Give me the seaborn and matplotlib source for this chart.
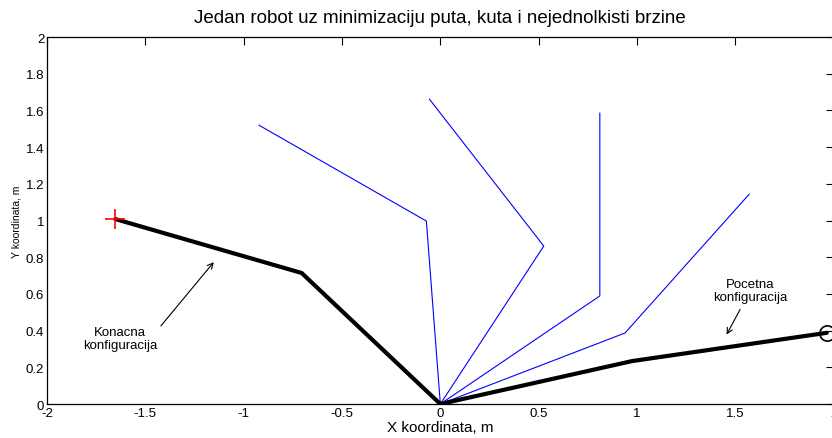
import numpy as np
import pandas as pd
import seaborn as sns
import matplotlib.pyplot as plt
import matplotlib.ticker as ticker

# joint positions (base, elbow, end effector) for each configuration
final_x = [0, -0.705, -1.653]
final_y = [0, 0.714, 1.008]
start_x = [0, 0.975, 1.965]
start_y = [0, 0.234, 0.388]

mid_x = [
    [0, -0.071, -0.923],
    [0, 0.526, -0.056],
    [0, 0.811, 0.811],
    [0, 0.939, 1.571],
]
mid_y = [
    [0, 0.997, 1.52],
    [0, 0.861, 1.662],
    [0, 0.589, 1.586],
    [0, 0.387, 1.144],
]

rows = []
for i, (xs, ys) in enumerate(zip(mid_x, mid_y)):
    for j, (x, y) in enumerate(zip(xs, ys)):
        rows.append({"cfg": i, "joint": j, "x": x, "y": y})
df_mid = pd.DataFrame(rows)

sns.set_style("white")
plt.rcParams['font.family'] = ['Liberation Sans', 'DejaVu Sans']
plt.rcParams['text.color'] = 'black'
plt.rcParams['axes.labelcolor'] = 'black'

fig = plt.figure(figsize=(8.32, 4.39), dpi=100)
ax = fig.add_axes([0.0565, 0.0774, 0.9455, 0.836])

for i in range(len(mid_x)):
    sub = df_mid[df_mid["cfg"] == i]
    sns.lineplot(data=sub, x="x", y="y", sort=False, estimator=None,
                 color="#0000ff", linewidth=0.8, ax=ax)

sns.lineplot(x=final_x, y=final_y, sort=False, estimator=None,
             color="black", linewidth=3, ax=ax)
sns.lineplot(x=start_x, y=start_y, sort=False, estimator=None,
             color="black", linewidth=3, ax=ax)

ax.plot(final_x[-1], final_y[-1], marker="+", color="red", markersize=14, mew=1.2)
ax.plot(start_x[-1], start_y[-1], marker="o", mfc="none", mec="black", markersize=11, mew=1.2)

ax.annotate("", xy=(-1.143, 0.785), xytext=(-1.43, 0.414),
            arrowprops=dict(arrowstyle="->", color="black", lw=0.8))
ax.text(-1.63, 0.355, "Konacna\nkonfiguracija", ha="center", va="center",
        fontsize=9.5, linespacing=1.1)
ax.annotate("", xy=(1.449, 0.365), xytext=(1.531, 0.529),
            arrowprops=dict(arrowstyle="->", color="black", lw=0.8))
ax.text(1.577, 0.62, "Pocetna\nkonfiguracija", ha="center", va="center",
        fontsize=9.5, linespacing=1.1)

ax.set_xlim(-2, 2)
ax.set_ylim(0, 2)
ax.xaxis.set_major_locator(ticker.MultipleLocator(0.5))
ax.yaxis.set_major_locator(ticker.MultipleLocator(0.2))
ax.xaxis.set_major_formatter(ticker.FormatStrFormatter("%g"))
ax.yaxis.set_major_formatter(ticker.FormatStrFormatter("%g"))
ax.tick_params(direction="in", length=6, width=0.8, top=True, right=True,
               labelsize=9.5, pad=2, colors="black")
for s in ax.spines.values():
    s.set_color("black")
    s.set_linewidth(0.9)

ax.set_xlabel("X koordinata, m", fontsize=11, labelpad=1)
ax.set_ylabel("Y koordinata, m", fontsize=7.5, labelpad=3)
ax.set_title("Jedan robot uz minimizaciju puta, kuta i nejednolkisti brzine",
             fontsize=13.5, pad=11)

fig.savefig("out.png", dpi=100)
